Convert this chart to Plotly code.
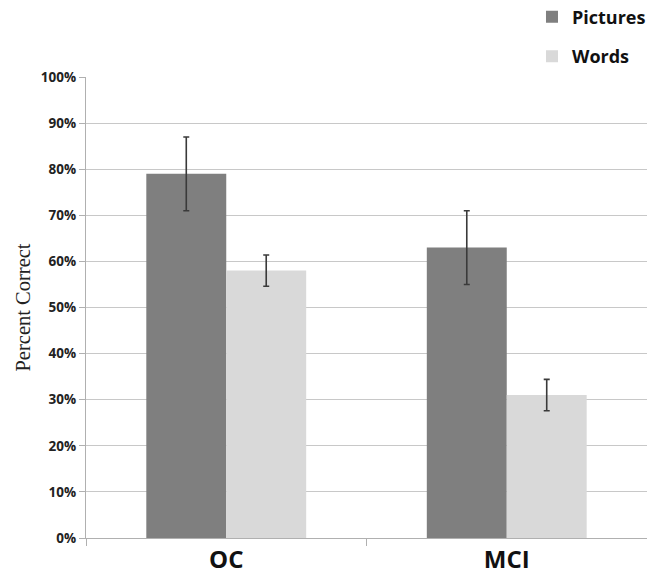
import plotly.graph_objects as go

categories = ["OC", "MCI"]
pictures = [79, 63]
pictures_err = [8, 8]
words = [58, 31]
words_err = [3.4, 3.4]
y_ticks = list(range(0, 101, 10))
y_tick_labels = [f"{v}%" for v in y_ticks]

fig = go.Figure()
fig.add_trace(go.Bar(
    name="Pictures", x=categories, y=pictures, legendgroup="p",
    marker=dict(color="#7f7f7f", line=dict(width=0)),
    error_y=dict(type="data", array=pictures_err, color="#3a3a3a", thickness=1.6, width=3),
))
fig.add_trace(go.Bar(
    name="Words", x=categories, y=words, legendgroup="w",
    marker=dict(color="#d9d9d9", line=dict(width=0)),
    error_y=dict(type="data", array=words_err, color="#3a3a3a", thickness=1.6, width=3),
))

# page body has an 8px margin, so the figure is drawn 8px smaller
fig.update_layout(
    width=647, height=565,
    margin=dict(l=78, r=8, t=69, b=35, autoexpand=False),
    paper_bgcolor="white", plot_bgcolor="white",
    barmode="group", bargap=0.43, bargroupgap=0,
    showlegend=True,
    legend=dict(x=0.795, y=1.17, xanchor="left", yanchor="top",
                font=dict(family="Open Sans", size=18, color="#111111", weight="bold"),
                tracegroupgap=13, itemwidth=30, bgcolor="rgba(0,0,0,0)"),
    font=dict(family="Open Sans", color="#222222"),
)
fig.update_yaxes(
    range=[0, 100], tickvals=y_ticks, ticktext=y_tick_labels,
    showgrid=True, gridcolor="#c8c8c8", gridwidth=1.3,
    showline=True, linecolor="#b0b0b0", linewidth=1.3,
    ticks="outside", ticklen=6, tickcolor="#b0b0b0",
    tickfont=dict(family="Open Sans", size=13.5, color="#222222", weight="bold"),
    title=dict(text="Percent Correct", font=dict(family="Liberation Serif", size=20.5, color="#222222"), standoff=4),
    zeroline=False,
)
fig.update_xaxes(
    showline=True, linecolor="#b0b0b0", linewidth=1.3,
    ticks="outside", tickson="boundaries", ticklen=7, tickcolor="#b0b0b0",
    tickfont=dict(family="Open Sans", size=24, color="#111111", weight="bold"),
)

fig.write_html("out.html")
